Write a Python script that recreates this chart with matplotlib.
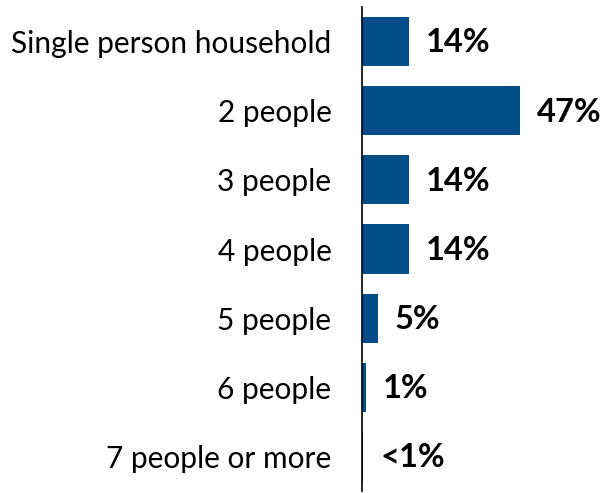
import matplotlib.pyplot as plt

categories = ["Single person household", "2 people", "3 people", "4 people",
              "5 people", "6 people", "7 people or more"]
values = [14, 47, 14, 14, 4.6, 1.1, 0.4]
labels = ["14%", "47%", "14%", "14%", "5%", "1%", "<1%"]

plt.rcParams['font.family'] = ['Lato', 'DejaVu Sans']

W, H = 608, 493
fig = plt.figure(figsize=(W / 100, H / 100), dpi=100)
ax = fig.add_axes([362 / W, 2 / H, 1 - 362 / W, 484 / H])

y = list(range(len(categories)))
ax.barh(y, values, height=0.71, color='#014D88')
ax.set_xlim(0, (W - 362) / 3.37)
ax.set_ylim(len(categories) - 0.5, -0.5)

for yi, v, lab in zip(y, values, labels):
    ax.annotate(lab, (v, yi), xytext=(12, -1), textcoords='offset points',
                va='center', ha='left', fontsize=23.5, fontweight='bold')

ax.set_yticks(y)
ax.set_yticklabels(categories, fontsize=21.5)
ax.tick_params(axis='y', length=0, pad=22)
ax.set_xticks([])
for s in ['top', 'right', 'bottom']:
    ax.spines[s].set_visible(False)
ax.spines['left'].set_linewidth(1.2)

fig.savefig('out.png', dpi=100)
